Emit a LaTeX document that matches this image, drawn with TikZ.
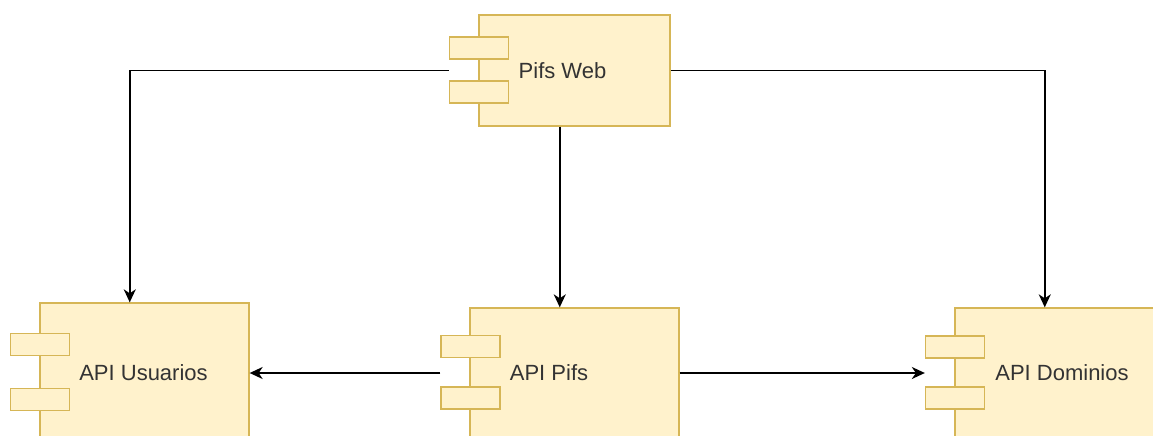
\documentclass[tikz,border=0pt]{standalone}
\usepackage{fontspec}
\setmainfont{Liberation Sans}
\usetikzlibrary{arrows.meta,calc}
\definecolor{cfill}{HTML}{FFF2CC}
\definecolor{cline}{HTML}{D6B656}
\definecolor{ctext}{HTML}{333333}
\begin{document}
\begin{tikzpicture}[x=1pt,y=-1pt,
  comp/.style={draw=cline,fill=cfill,line width=1.3pt,inner sep=0pt,rectangle},
  tab/.style={comp,minimum width=59pt,minimum height=22pt},
  lbl/.style={font=\fontsize{22}{26}\selectfont,text=ctext,inner sep=0pt},
  arr/.style={-{Stealth[length=13pt,width=12pt,inset=4pt]},line width=1.8pt,draw=black}]
\useasboundingbox (0,0) rectangle (1153,436);
\clip (0,0) rectangle (1153,436);
% Pifs Web
\node[comp,minimum width=191pt,minimum height=111pt] (web) at (574.5,70.5) {};
\node[tab] (webt1) at (479,48) {};
\node[tab] (webt2) at (479,92) {};
\node[lbl] (webl) at (562.5,70.5) {Pifs Web};
% API Usuarios
\node[comp,minimum width=209pt,minimum height=140pt] (usu) at (144.5,373) {};
\node[tab] (usut1) at (40,344.5) {};
\node[tab] (usut2) at (40,399.5) {};
\node[lbl] (usul) at (143.5,373) {API Usuarios};
% API Pifs
\node[comp,minimum width=209pt,minimum height=140pt] (pifs) at (574.5,378) {};
\node[tab] (pifst1) at (470.5,346.5) {};
\node[tab] (pifst2) at (470.5,398) {};
\node[lbl] (pifsl) at (549,373) {API Pifs};
% API Dominios
\node[comp,minimum width=209pt,minimum height=140pt] (dom) at (1059.5,378) {};
\node[tab] (domt1) at (955,347) {};
\node[tab] (domt2) at (955,398) {};
\node[lbl] (doml) at (1062,373) {API Dominios};
% connector end points
\coordinate (usutop) at ($(usut1.west |- usu.north)!0.5!(usu.north east)$);
\coordinate (domtop) at ($(domt1.west |- dom.north)!0.5!(dom.north east)$);
\coordinate (webbot) at ($(webt1.west |- web.south)!0.5!(web.south east)$);
% connectors
\draw[arr] (webt1.west |- web.center) -| (usutop);
\draw[arr] (web.east) -| (domtop);
\draw[arr] (webbot) -- (webbot |- pifs.north);
\draw[arr] (pifst1.west |- usul) -- (usu.east |- usul);
\draw[arr] (pifs.east |- usul) -- (domt1.west |- usul);
\end{tikzpicture}
\end{document}
